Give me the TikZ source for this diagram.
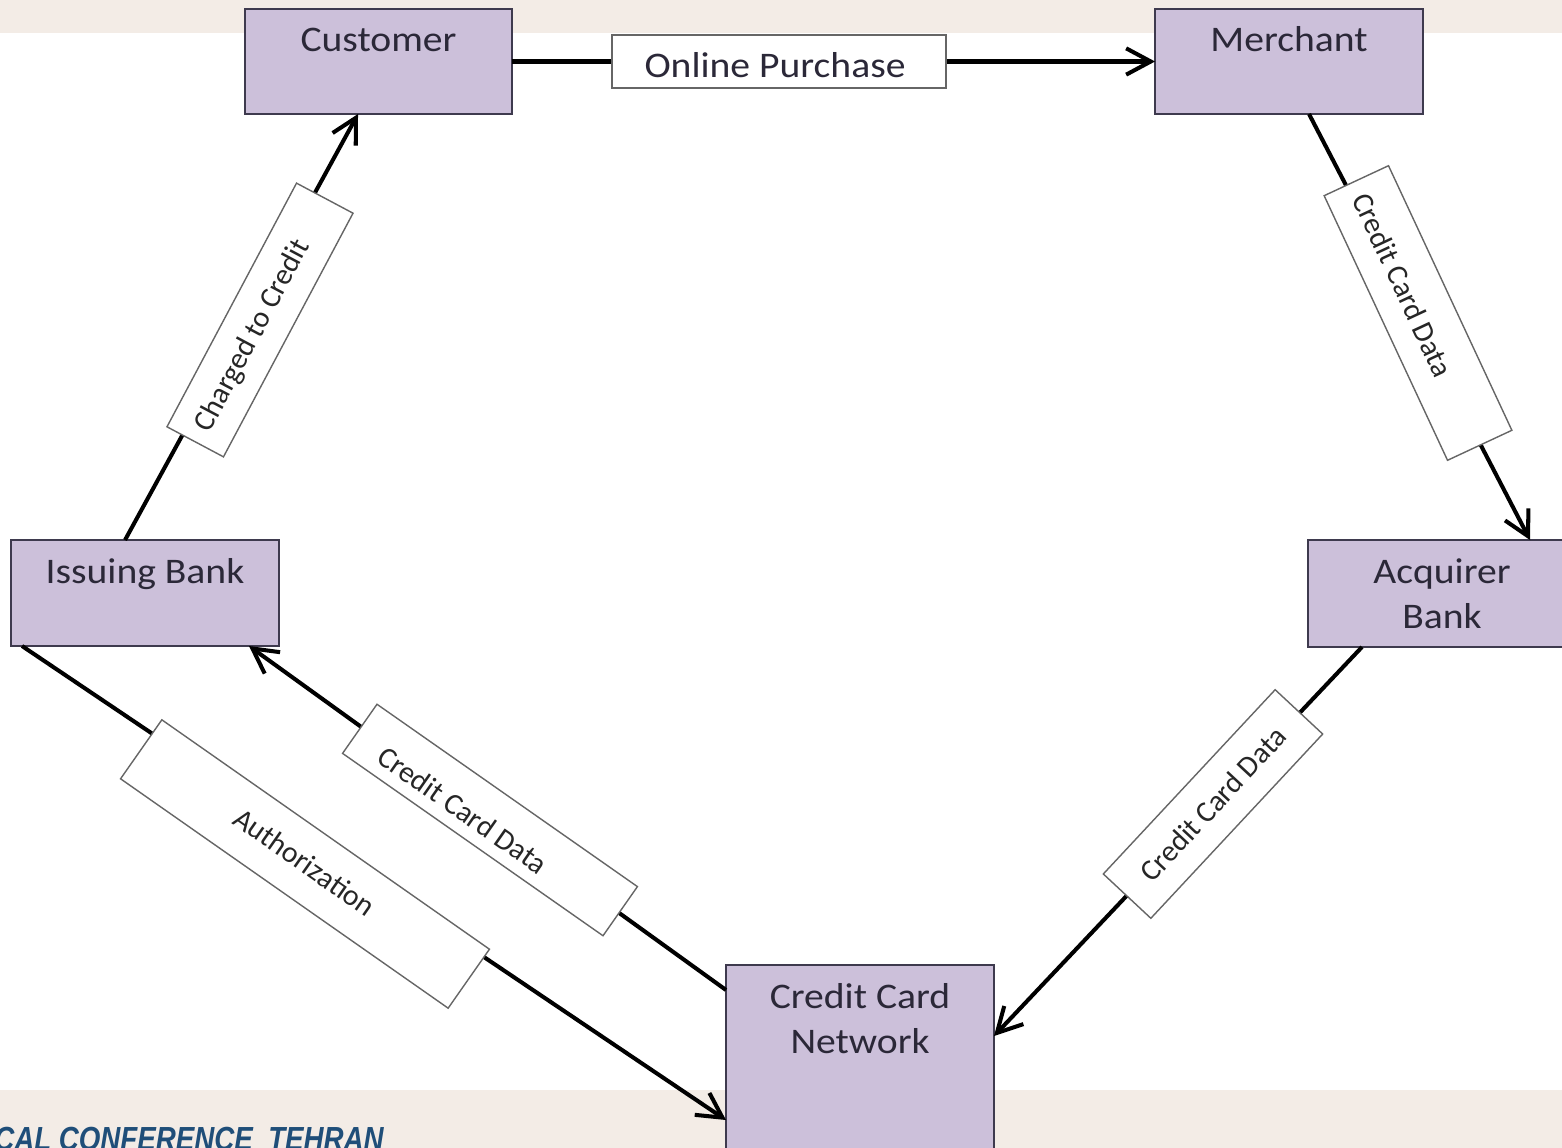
\documentclass[tikz,border=0pt]{standalone}
\usepackage{fontspec}
\setmainfont{Carlito}
\newfontfamily\bandfont{Liberation Sans}
\usetikzlibrary{arrows.meta,calc}
\definecolor{boxfill}{HTML}{CCC0DA}
\definecolor{boxline}{HTML}{3E3A4E}
\definecolor{band}{HTML}{F3ECE6}
\definecolor{bandtext}{HTML}{1F4E79}
\definecolor{txt}{HTML}{2B2838}
\begin{document}
\begin{tikzpicture}[x=0.02cm,y=-0.02cm,
  ent/.style={draw=boxline, line width=1.1pt, fill=boxfill, inner sep=0pt, outer sep=0pt},
  enttext/.style={font=\fontsize{20.5}{24}\selectfont, text=txt, inner sep=0pt, anchor=base, xscale=1.1},
  lblbox/.style={draw=black!60, line width=0.8pt, fill=white, inner sep=0pt, outer sep=0pt},
  lbltext/.style={font=\fontsize{17}{20}\selectfont, text=black!85, inner sep=0pt},
  flow/.style={line width=2.3pt, -{Straight Barb[length=14pt,width=15pt]}}]
\useasboundingbox (0,0) rectangle (1562,1148);
% background bands
\fill[band] (0,0) rectangle (1562,33);
\fill[band] (0,1090) rectangle (1562,1148);
\node[anchor=base west, font=\bandfont\bfseries\itshape\fontsize{19}{22}\selectfont, text=bandtext, xscale=0.83, inner sep=0pt] (bandt) at (-6,1150) {CAL CONFERENCE\ \ TEHRAN};
% entity boxes
\node[ent, minimum width=5.34cm, minimum height=2.1cm] (cust) at (378.5,61.5) {};
\node[ent, minimum width=5.36cm, minimum height=2.1cm] (merch) at (1289,61.5) {};
\node[ent, minimum width=5.36cm, minimum height=2.12cm] (issu) at (145,593) {};
\node[ent, minimum width=5.36cm, minimum height=2.14cm] (acq) at (1442,593.5) {};
\node[ent, minimum width=5.36cm, minimum height=4.2cm] (ccn) at (860,1070) {};
\node[enttext] (custt) at ($(cust.north)+(0,42)$) {Customer};
\node[enttext] (mercht) at ($(merch.north)+(0,42)$) {Merchant};
\node[enttext] (issut) at ($(issu.north)+(0,43)$) {Issuing Bank};
\node[enttext] (acqt1) at ($(acq.north)+(0,43)$) {Acquirer};
\node[enttext] (acqt2) at ($(acq.north)+(0,88)$) {Bank};
\node[enttext] (ccnt1) at ($(ccn.north)+(0,43)$) {Credit Card};
\node[enttext] (ccnt2) at ($(ccn.north)+(0,88)$) {Network};
% connectors
\draw[flow] (cust.east) -- (merch.west);
\draw[flow] ($(merch.south)+(20,0)$) -- ($(acq.north)+(88,0)$);
\draw[flow] ($(acq.south)+(-80,0)$) -- ($(ccn.north east)+(0,71)$);
\draw[flow] ($(ccn.north west)+(0,25)$) -- ($(issu.south east)+(-30,0)$);
\draw[flow] ($(issu.south west)+(11,0)$) -- ($(ccn.north west)+(0,155)$);
\draw[flow] ($(issu.north west)+(114,0)$) -- ($(cust.south west)+(113,0)$);
% labels
\node[lblbox, minimum width=6.68cm, minimum height=1.06cm] (l1) at (779,61.5) {};
\node[enttext] (l1t) at (775,78) {Online Purchase};
\node[lblbox, rotate=-65, minimum width=5.84cm, minimum height=1.42cm] (l2) at (1418,313) {};
\node[lbltext, rotate=-65] (l2t) at (1403,285) {Credit Card Data};
\node[lblbox, rotate=47, minimum width=5.04cm, minimum height=1.3cm] (l3) at (1213,804) {};
\node[lbltext, rotate=47] (l3t) at (1213,804) {Credit Card Data};
\node[lblbox, rotate=-35, minimum width=6.36cm, minimum height=1.2cm] (l4) at (490,820) {};
\node[lbltext, rotate=-35] (l4t) at (463,810) {Credit Card Data};
\node[lblbox, rotate=-35, minimum width=8cm, minimum height=1.44cm] (l5) at (305,864) {};
\node[lbltext, rotate=-35] (l5t) at (305,862) {Authorization};
\node[lblbox, rotate=62, minimum width=5.52cm, minimum height=1.28cm] (l6) at (260,320) {};
\node[lbltext, rotate=62] (l6t) at (253,336) {Charged to Credit};
\end{tikzpicture}
\end{document}
